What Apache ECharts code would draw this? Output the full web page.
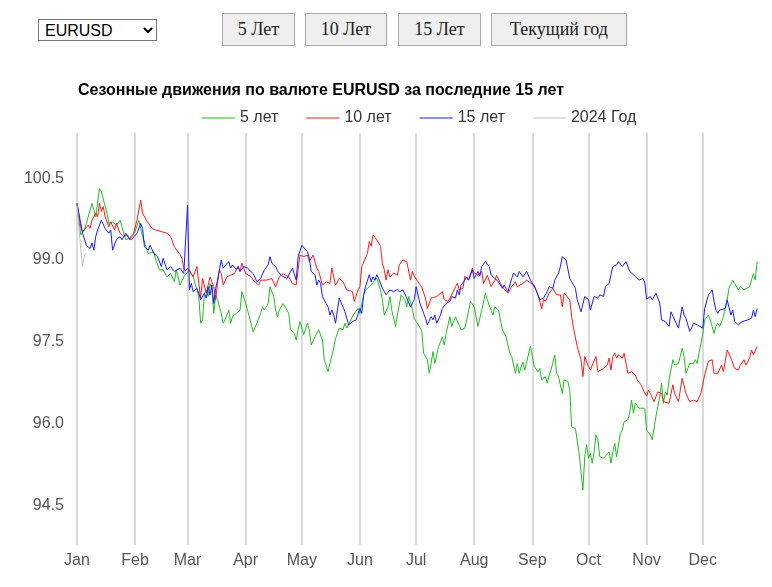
<!DOCTYPE html>
<html>
<head>
<meta charset="utf-8">
<script src="https://cdn.jsdelivr.net/npm/echarts@6/dist/echarts.min.js"></script>
<style>
  body { margin: 0; background: #fff; }
  #wrap { position: relative; width: 772px; height: 587px; }
  #main { position: absolute; left: 0; top: 0; width: 772px; height: 587px; }
  .ctl { position: absolute; z-index: 2; }
  select.ctl { left: 38px; top: 19px; width: 119px; height: 22px; font: 16px Arial, "Liberation Sans", sans-serif; border: 1px solid #767676; background: #fff; padding: 0 2px; }
  button.ctl { top: 13px; height: 33px; font: 18px "Times New Roman", "Liberation Serif", serif; color: #222; background: #efefef; border: 1px solid #aaa; border-radius: 0; padding: 0; }
</style>
</head>
<body>
<div id="wrap">
  <select class="ctl"><option>EURUSD</option></select>
  <button class="ctl" style="left:222px;width:73px">5 Лет</button>
  <button class="ctl" style="left:305px;width:82px">10 Лет</button>
  <button class="ctl" style="left:398px;width:83px">15 Лет</button>
  <button class="ctl" style="left:491px;width:136px">Текущий год</button>
  <div id="main"></div>
</div>
<script>
// day of year (0 = 1 Jan) -> seasonal index value
const monthNames = ['Jan', 'Feb', 'Mar', 'Apr', 'May', 'Jun', 'Jul', 'Aug', 'Sep', 'Oct', 'Nov', 'Dec']
const monthStarts = [0, 31, 59, 90, 120, 151, 181, 212, 243, 273, 304, 334]
const yTicks = [94.5, 96.0, 97.5, 99.0, 100.5]

const years5 = [[0,100.04],[2,99.46],[4,99.55],[8,100.04],[10,99.79],[12,100.31],[13,100.25],[16,99.86],[17,99.67],[19,99.70],[21,99.64],[23,99.73],[24,99.61],[26,99.37],[28,99.40],[31,99.52],[33,99.73],[35,99.43],[38,99.12],[41,99.15],[42,99.00],[44,98.82],[46,98.82],[48,98.69],[50,98.75],[52,98.60],[53,98.82],[55,98.54],[57,98.69],[60,98.82],[62,98.69],[65,98.33],[66,97.84],[67,97.90],[68,98.39],[69,98.45],[70,98.33],[71,98.57],[72,98.45],[73,98.02],[74,98.36],[75,98.27],[77,98.02],[78,97.84],[79,97.90],[80,97.87],[81,98.08],[82,97.84],[83,97.96],[85,98.02],[87,98.08],[88,98.42],[89,98.39],[90,98.20],[91,98.08],[92,97.96],[94,97.68],[96,97.84],[98,98.02],[99,98.14],[100,98.08],[102,98.20],[103,98.51],[105,98.33],[106,98.08],[107,97.96],[108,98.08],[110,98.20],[111,98.14],[113,98.02],[114,97.72],[116,97.65],[117,97.53],[118,97.72],[119,97.87],[121,97.63],[123,97.84],[124,97.72],[125,97.44],[127,97.59],[128,97.59],[129,97.72],[131,97.53],[132,97.17],[134,96.95],[135,97.10],[137,97.38],[138,97.56],[140,97.75],[142,97.72],[143,97.84],[144,97.75],[147,97.96],[148,97.99],[150,98.11],[151,98.02],[153,98.36],[154,98.45],[156,98.51],[157,98.54],[160,98.66],[162,98.45],[163,98.27],[164,97.99],[166,98.14],[167,98.33],[168,98.08],[170,97.78],[171,97.99],[173,98.36],[175,98.27],[176,98.14],[177,98.33],[179,98.11],[180,97.92],[182,97.82],[184,97.70],[185,97.29],[187,97.17],[188,96.92],[189,97.10],[190,97.32],[191,97.10],[193,97.41],[195,97.59],[196,97.44],[197,97.65],[199,97.96],[200,97.78],[202,97.96],[203,97.93],[205,97.72],[207,97.75],[208,97.90],[210,98.24],[212,98.14],[214,97.78],[216,98.08],[218,98.39],[219,98.27],[221,98.08],[222,97.99],[223,98.14],[224,98.17],[225,98.08],[227,97.72],[229,97.59],[231,97.29],[232,97.23],[234,96.92],[235,97.10],[236,96.92],[238,97.13],[239,96.98],[242,97.42],[243,97.42],[244,97.05],[246,96.95],[247,97.01],[248,96.80],[250,96.86],[251,96.74],[252,96.89],[253,96.98],[255,97.26],[256,96.92],[257,96.86],[259,96.55],[260,96.80],[262,96.77],[263,96.62],[264,95.94],[266,95.91],[267,95.94],[268,95.45],[270,94.78],[271,95.39],[272,95.61],[273,95.36],[274,95.45],[275,95.27],[276,95.48],[277,95.79],[278,95.70],[279,95.39],[281,95.36],[282,95.39],[284,95.48],[285,95.27],[286,95.48],[287,95.64],[288,95.39],[290,95.82],[291,95.88],[292,96.03],[294,96.07],[295,96.19],[296,96.43],[297,96.19],[298,96.37],[300,96.28],[301,96.25],[303,96.28],[304,95.88],[305,95.88],[306,95.79],[307,95.70],[309,96.13],[311,96.49],[312,96.74],[313,96.37],[314,96.58],[315,96.52],[316,96.80],[318,97.17],[319,97.07],[321,97.10],[322,97.23],[323,97.38],[324,97.23],[325,96.92],[327,97.10],[328,97.13],[329,97.10],[330,97.17],[331,97.10],[332,97.29],[333,97.32],[334,97.65],[335,97.90],[337,97.99],[338,97.90],[339,97.78],[340,97.65],[341,97.78],[342,97.84],[343,97.78],[344,97.87],[345,97.96],[347,98.27],[348,98.48],[349,98.45],[350,98.63],[351,98.57],[353,98.45],[354,98.51],[355,98.54],[356,98.45],[357,98.48],[359,98.51],[361,98.75],[362,98.63],[363,98.97]]

const years10 = [[0,100.04],[2,99.61],[3,99.52],[6,99.64],[7,99.58],[8,99.73],[10,99.86],[11,99.79],[12,100.04],[13,99.89],[14,99.98],[15,99.79],[17,99.61],[18,99.70],[20,99.55],[21,99.67],[23,99.49],[25,99.43],[27,99.46],[28,99.37],[30,99.46],[32,99.73],[34,100.10],[35,99.86],[37,99.73],[40,99.58],[42,99.55],[45,99.52],[48,99.49],[50,99.43],[52,99.24],[55,99.10],[56,99.03],[57,98.85],[58,98.80],[59,98.85],[62,98.69],[64,98.88],[65,98.57],[66,98.30],[67,98.66],[69,98.39],[70,98.54],[71,98.69],[73,98.51],[74,98.27],[75,98.57],[76,98.82],[77,98.75],[78,98.54],[80,98.69],[82,98.72],[84,98.75],[86,98.88],[87,98.79],[88,98.94],[90,98.75],[91,98.72],[93,98.69],[94,98.63],[97,98.54],[98,98.63],[101,98.63],[102,98.60],[104,98.66],[106,98.51],[108,98.69],[110,98.75],[113,98.69],[115,98.57],[117,98.54],[118,98.82],[119,99.09],[121,99.06],[123,99.09],[124,98.97],[126,99.09],[128,98.85],[129,98.79],[131,98.54],[133,98.60],[135,98.57],[136,98.85],[138,98.54],[140,98.66],[142,98.60],[144,98.45],[147,98.42],[148,98.24],[150,98.45],[151,98.51],[152,98.88],[155,99.12],[156,99.34],[157,99.25],[158,99.46],[160,99.37],[162,99.25],[163,98.94],[164,98.82],[165,98.63],[166,98.82],[167,98.69],[169,98.76],[171,98.72],[172,98.91],[174,99.00],[176,98.97],[178,98.63],[179,98.79],[180,98.70],[182,98.60],[184,98.50],[186,98.30],[187,98.11],[189,98.30],[190,98.27],[192,98.33],[193,98.30],[195,98.42],[196,98.27],[198,98.24],[200,98.36],[202,98.51],[203,98.57],[204,98.45],[206,98.48],[207,98.70],[209,98.63],[211,98.85],[212,98.76],[214,98.72],[216,98.79],[217,98.57],[219,98.72],[221,98.51],[223,98.63],[224,98.72],[226,98.57],[227,98.51],[230,98.39],[232,98.51],[234,98.60],[235,98.51],[238,98.57],[240,98.63],[242,98.58],[244,98.54],[246,98.36],[247,98.24],[248,98.10],[249,98.28],[250,98.24],[252,98.39],[253,98.36],[254,98.48],[256,98.36],[258,98.36],[259,98.14],[260,98.39],[261,98.36],[263,98.27],[264,97.96],[265,97.75],[266,97.72],[267,97.41],[269,97.17],[270,96.86],[271,97.23],[273,97.04],[274,96.98],[275,97.07],[277,97.23],[278,96.95],[279,96.92],[281,97.01],[282,96.98],[283,97.07],[284,97.20],[285,96.98],[286,97.23],[287,97.29],[288,97.20],[289,97.26],[291,97.20],[292,97.29],[293,97.32],[294,96.92],[296,96.95],[298,96.89],[299,96.80],[301,96.71],[302,96.68],[303,96.56],[304,96.50],[305,96.61],[306,96.55],[308,96.40],[310,96.58],[312,96.55],[313,96.40],[316,96.37],[318,96.71],[319,96.55],[321,96.40],[323,96.83],[325,96.55],[327,96.40],[329,96.43],[330,96.46],[331,96.40],[333,96.55],[334,96.58],[335,96.89],[336,96.86],[337,97.14],[339,97.17],[340,96.92],[342,96.92],[344,97.07],[345,96.95],[347,97.35],[349,97.20],[350,97.23],[351,97.01],[353,96.98],[354,97.07],[356,97.17],[357,97.07],[359,97.20],[360,97.35],[361,97.26],[363,97.41]]

const years15 = [[0,100.04],[2,99.67],[3,99.49],[5,99.27],[7,99.21],[8,99.31],[9,99.18],[10,99.43],[11,99.55],[13,99.73],[15,99.58],[17,99.49],[18,99.55],[19,99.18],[21,99.37],[23,99.43],[24,99.37],[26,99.49],[27,99.43],[29,99.37],[32,99.49],[34,99.67],[35,99.58],[36,99.24],[38,99.18],[39,99.27],[41,99.12],[43,99.06],[45,98.88],[46,99.03],[48,98.82],[50,98.88],[52,98.79],[55,98.85],[57,98.75],[58,98.72],[59,100.01],[60,98.45],[61,98.57],[62,98.42],[64,98.48],[65,98.39],[66,98.27],[67,98.24],[68,98.39],[69,98.30],[70,98.51],[71,98.36],[72,98.54],[73,98.20],[74,98.48],[75,98.63],[77,99.00],[78,98.85],[79,98.82],[81,98.97],[82,98.85],[83,98.91],[85,98.82],[86,98.88],[87,98.79],[89,98.88],[91,98.85],[92,98.88],[94,98.75],[96,98.60],[98,98.66],[99,98.63],[100,98.82],[102,98.91],[103,99.06],[104,98.94],[106,98.88],[107,98.80],[109,98.72],[110,98.75],[112,98.66],[113,98.69],[115,98.85],[117,98.63],[118,99.06],[120,99.27],[121,99.24],[123,99.15],[124,99.03],[125,98.79],[127,98.73],[128,98.54],[129,98.63],[130,98.57],[131,98.33],[133,98.20],[134,98.14],[135,97.99],[136,98.08],[137,97.99],[138,97.84],[139,98.08],[140,98.30],[142,98.14],[143,98.05],[144,97.93],[145,97.81],[147,97.87],[148,97.84],[149,97.90],[151,98.11],[152,98.02],[153,98.36],[154,98.51],[156,98.73],[157,98.60],[158,98.69],[159,98.63],[160,98.73],[161,98.66],[163,98.48],[165,98.36],[167,98.45],[169,98.42],[171,98.46],[172,98.42],[174,98.45],[176,98.30],[178,98.14],[180,98.27],[181,98.51],[183,98.21],[185,98.02],[186,97.93],[187,97.81],[189,97.96],[190,97.90],[191,97.99],[192,97.84],[194,97.99],[195,98.11],[197,98.20],[199,98.24],[200,98.33],[202,98.30],[203,98.45],[204,98.36],[205,98.54],[207,98.63],[208,98.69],[209,98.63],[211,98.82],[212,98.66],[214,98.79],[215,98.70],[216,98.88],[218,98.97],[220,98.88],[221,98.73],[223,98.66],[225,98.60],[227,98.48],[228,98.54],[230,98.42],[232,98.66],[233,98.76],[235,98.69],[236,98.79],[238,98.69],[240,98.79],[242,98.63],[243,98.66],[244,98.51],[245,98.45],[247,98.27],[249,98.30],[250,98.27],[251,98.42],[252,98.51],[254,98.48],[255,98.63],[257,98.76],[258,98.88],[259,99.06],[261,99.00],[263,98.66],[264,98.60],[266,98.48],[267,98.27],[269,98.05],[271,98.33],[273,98.27],[274,98.08],[275,98.05],[276,98.33],[278,98.30],[279,98.36],[281,98.33],[282,98.51],[284,98.57],[285,98.73],[286,98.88],[288,98.91],[289,98.97],[291,98.88],[293,98.97],[295,98.79],[296,98.82],[298,98.70],[300,98.63],[302,98.66],[303,98.60],[304,98.28],[306,98.33],[307,98.27],[308,98.33],[309,98.39],[311,98.21],[312,97.90],[314,97.87],[316,97.78],[317,98.05],[318,98.08],[319,97.90],[321,97.75],[323,98.14],[324,97.99],[325,97.93],[327,97.69],[328,97.75],[329,97.84],[331,97.81],[332,97.84],[334,97.75],[335,98.11],[336,98.08],[337,98.36],[339,98.45],[340,98.24],[341,98.08],[342,98.02],[343,98.08],[344,98.11],[346,98.11],[347,98.27],[349,97.99],[350,98.08],[351,97.87],[353,97.81],[354,97.84],[355,97.87],[356,97.84],[358,97.90],[360,97.93],[361,98.08],[362,97.96],[363,98.11]]

const year2024 = [[0,100.02],[1,99.60],[2,99.20],[3,98.88],[4,99.09],[5,99.12]]

// 365 calendar days as categories
let days = []
for (let i = 0; i < 365; i++) days.push(String(i))
const isMonthStart = (i) => monthStarts.indexOf(i) >= 0

let chart = echarts.init(document.getElementById('main'))
let font = 'Arial, "Liberation Sans", sans-serif'
let mk = (name, data, color) => ({
  name: name,
  type: 'line',
  data: data,
  symbol: 'none',
  lineStyle: { width: 1, color: color },
  itemStyle: { color: color }
})

let option = {
  animation: false,
  title: {
    text: 'Сезонные движения по валюте EURUSD за последние 15 лет',
    left: 73,
    top: 78,
    textStyle: { fontSize: 16, fontWeight: 'bold', color: '#000', fontFamily: font }
  },
  legend: {
    left: 197,
    top: 105,
    icon: 'rect',
    itemWidth: 33,
    itemHeight: 1,
    itemGap: 28,
    textStyle: { fontSize: 16, color: '#333', fontFamily: font },
    data: ['5 лет', '10 лет', '15 лет', '2024 Год']
  },
  grid: { left: 77, right: 13, top: 133, bottom: 42 },
  xAxis: {
    type: 'category',
    boundaryGap: false,
    data: days,
    axisLine: { show: false },
    axisTick: { show: false },
    axisLabel: {
      interval: (i) => isMonthStart(i),
      formatter: (v, i) => monthNames[monthStarts.indexOf(i)],
      fontSize: 16, color: '#555', fontFamily: font, margin: 8
    },
    splitLine: {
      show: true,
      interval: (i) => isMonthStart(i),
      lineStyle: { color: '#dadada', width: 2 }
    }
  },
  yAxis: {
    type: 'value',
    min: 93.77,
    max: 101.33,
    axisLine: { show: false },
    axisTick: { show: false },
    splitLine: { show: false },
    axisLabel: {
      customValues: yTicks,
      formatter: (v) => v.toFixed(1),
      fontSize: 16, color: '#555', fontFamily: font, margin: 13
    }
  },
  series: [
    mk('5 лет', years5, '#22bb22'),
    mk('10 лет', years10, '#ff1a1a'),
    mk('15 лет', years15, '#1a1aff'),
    mk('2024 Год', year2024, '#bdbdbd')
  ]
}
chart.setOption(option)
</script>
</body>
</html>
